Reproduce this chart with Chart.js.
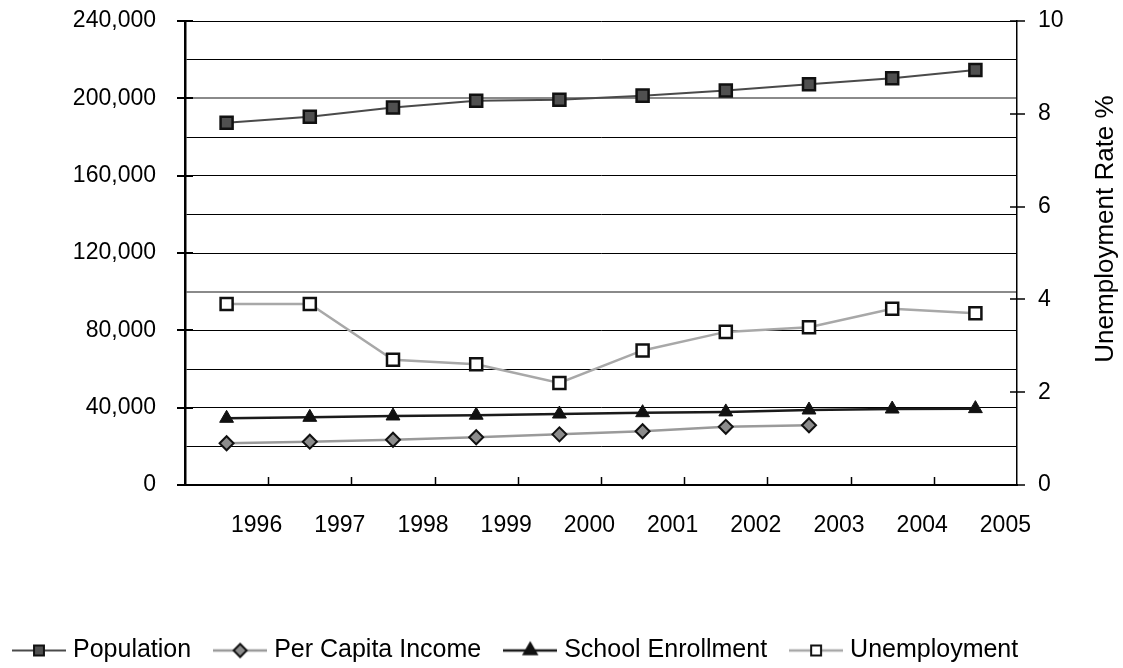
<!DOCTYPE html>
<html>
<head>
<meta charset="utf-8">
<script src="https://cdn.jsdelivr.net/npm/chart.js@4.4.1/dist/chart.umd.min.js"></script>
<style>
  html, body { margin: 0; padding: 0; background: #ffffff; }
  #wrap { width: 1123px; height: 668px; }
</style>
</head>
<body>
<div id="wrap"><canvas id="chart" width="1123" height="668"></canvas></div>
<script>
// Community indicators, 1996-2005
const years = ['1996', '1997', '1998', '1999', '2000', '2001', '2002', '2003', '2004', '2005'];
const population = [187400, 190500, 195200, 198800, 199300, 201400, 204000, 207300, 210400, 214700];
const perCapitaIncome = [21600, 22400, 23400, 24700, 26200, 27800, 30100, 30900, null, null];
const schoolEnrollment = [34500, 35000, 35700, 36100, 36700, 37400, 37800, 38800, 39300, 39500];
const unemploymentRate = [3.9, 3.9, 2.7, 2.6, 2.2, 2.9, 3.3, 3.4, 3.8, 3.7];

const leftMajorTicks = [0, 40000, 80000, 120000, 160000, 200000, 240000];
const rightTicks = [0, 2, 4, 6, 8, 10];
const rightTitle = 'Unemployment Rate %';

const FONT = '"Liberation Sans", Arial, sans-serif';

// Line segment plus marker, used as the legend symbol for each series
function legendSymbol(ds) {
  const w = 54, h = 24;
  const cv = document.createElement('canvas');
  cv.width = w; cv.height = h;
  const g = cv.getContext('2d');
  g.strokeStyle = ds.borderColor;
  g.lineWidth = ds.borderWidth;
  g.beginPath();
  g.moveTo(0, h / 2);
  g.lineTo(w, h / 2);
  g.stroke();
  g.fillStyle = ds.pointBackgroundColor;
  g.strokeStyle = ds.pointBorderColor;
  g.lineWidth = 2;
  Chart.helpers.drawPoint(g, {
    pointStyle: ds.pointStyle,
    radius: ds.legendRadius,
    rotation: 0,
    borderWidth: 2
  }, w / 2, h / 2);
  return cv;
}

// Moves the legend row so that its first symbol starts near the left edge
const legendPlacement = {
  id: 'legendPlacement',
  afterLayout(chart) {
    const lg = chart.legend;
    if (!lg) return;
    lg.left -= 10; lg.right -= 10;
    lg.top += 5; lg.bottom += 5;
  }
};

// Cross tick marks on the value axes, inner tick marks on the category axis,
// and the rotated title of the right-hand axis
const axisDecor = {
  id: 'axisDecor',
  afterDraw(chart) {
    const ctx = chart.ctx;
    const y = chart.scales.y, y1 = chart.scales.y1, x = chart.scales.x;
    const area = chart.chartArea;
    ctx.save();
    ctx.strokeStyle = '#000';

    ctx.lineWidth = 2;
    leftMajorTicks.forEach(v => {
      const py = Math.round(y.getPixelForValue(v));
      ctx.beginPath();
      ctx.moveTo(area.left - 8, py);
      ctx.lineTo(area.left + 8, py);
      ctx.stroke();
    });

    ctx.lineWidth = 1.5;
    rightTicks.forEach(v => {
      const py = Math.round(y1.getPixelForValue(v));
      ctx.beginPath();
      ctx.moveTo(area.right - 7, py);
      ctx.lineTo(area.right + 8, py);
      ctx.stroke();
    });

    const step = x.getPixelForValue(1) - x.getPixelForValue(0);
    for (let i = 1; i < years.length; i++) {
      const px = Math.round(x.getPixelForValue(i) - step / 2) + 0.5;
      ctx.beginPath();
      ctx.moveTo(px, area.bottom);
      ctx.lineTo(px, area.bottom - 8);
      ctx.stroke();
    }

    ctx.fillStyle = '#000';
    ctx.font = '26px ' + FONT;
    ctx.textAlign = 'center';
    ctx.textBaseline = 'middle';
    ctx.translate(1106, 229);
    ctx.rotate(-Math.PI / 2);
    ctx.fillText(rightTitle, 0, 0);
    ctx.restore();
  }
};

const datasets = [
  {
    label: 'Population',
    data: population,
    yAxisID: 'y',
    borderColor: '#4a4a4a',
    borderWidth: 2,
    pointStyle: 'rect',
    pointRadius: 8.5,
    legendRadius: 7,
    pointBackgroundColor: '#505050',
    pointBorderColor: '#111111',
    pointBorderWidth: 2.5
  },
  {
    label: 'Per Capita Income',
    data: perCapitaIncome,
    yAxisID: 'y',
    borderColor: '#9a9a9a',
    borderWidth: 2.5,
    pointStyle: 'rectRot',
    pointRadius: 7,
    legendRadius: 6.5,
    pointBackgroundColor: '#8c8c8c',
    pointBorderColor: '#111111',
    pointBorderWidth: 2
  },
  {
    label: 'School Enrollment',
    data: schoolEnrollment,
    yAxisID: 'y',
    borderColor: '#1a1a1a',
    borderWidth: 2.5,
    pointStyle: 'triangle',
    pointRadius: 8,
    legendRadius: 7.5,
    pointBackgroundColor: '#111111',
    pointBorderColor: '#111111',
    pointBorderWidth: 1
  },
  {
    label: 'Unemployment',
    data: unemploymentRate,
    yAxisID: 'y1',
    borderColor: '#a8a8a8',
    borderWidth: 2.5,
    pointStyle: 'rect',
    pointRadius: 8.5,
    legendRadius: 7,
    pointBackgroundColor: '#ffffff',
    pointBorderColor: '#111111',
    pointBorderWidth: 2.5
  }
];
datasets.forEach(d => { d.tension = 0; d.spanGaps = false; d.pointHoverRadius = d.pointRadius; });

// Value axes keep their label padding out of the plot-area inset
function trimVerticalPadding(scale) {
  scale.paddingTop = 0;
  scale.paddingBottom = 0;
}

// Gridline styling: the 100,000 and 200,000 lines are softer and wider
const softGridValues = [100000, 200000];
function gridColor(ctx) {
  if (!ctx.tick) return '#000';
  if (ctx.tick.value === 0) return 'rgba(0,0,0,0)';
  return softGridValues.includes(ctx.tick.value) ? '#8a8a8a' : '#000';
}
function gridWidth(ctx) {
  return ctx.tick && softGridValues.includes(ctx.tick.value) ? 2 : 1;
}

new Chart(document.getElementById('chart'), {
  type: 'line',
  data: { labels: years, datasets },
  options: {
    responsive: false,
    animation: false,
    devicePixelRatio: 1,
    layout: { padding: { top: 21, bottom: 0, left: 0, right: 0 } },
    plugins: {
      tooltip: { enabled: false },
      legend: {
        position: 'bottom',
        align: 'start',
        labels: {
          usePointStyle: true,
          pointStyleWidth: 43,
          padding: 27.5,
          color: '#000',
          font: { family: FONT, size: 25 },
          generateLabels(chart) {
            return chart.data.datasets.map((ds, i) => ({
              text: ds.label,
              pointStyle: legendSymbol(ds),
              fillStyle: ds.pointBackgroundColor,
              strokeStyle: ds.pointBorderColor,
              lineWidth: 0,
              hidden: false,
              datasetIndex: i
            }));
          }
        }
      }
    },
    scales: {
      x: {
        type: 'category',
        offset: true,
        grid: { display: false, drawTicks: false, offset: true },
        border: { display: true, color: '#000', width: 2 },
        ticks: {
          color: '#000',
          font: { family: FONT, size: 23 },
          padding: 27,
          labelOffset: 30,
          maxRotation: 0,
          autoSkip: false
        },
        afterFit(scale) { scale.height = 120.5; }
      },
      y: {
        type: 'linear',
        position: 'left',
        min: 0,
        max: 240000,
        grid: {
          drawTicks: false,
          color: gridColor,
          lineWidth: gridWidth
        },
        border: { display: true, color: '#000', width: 2.5 },
        ticks: {
          stepSize: 20000,
          padding: 29,
          color: '#000',
          font: { family: FONT, size: 23 },
          callback: v => (v % 40000 === 0) ? v.toLocaleString('en-US') : ''
        },
        afterFit(scale) { scale.width = 185; trimVerticalPadding(scale); }
      },
      y1: {
        type: 'linear',
        position: 'right',
        min: 0,
        max: 10,
        grid: { display: false, drawTicks: false },
        border: { display: true, color: '#000', width: 1.5 },
        ticks: {
          stepSize: 2,
          padding: 21,
          color: '#000',
          font: { family: FONT, size: 23 }
        },
        afterFit(scale) { scale.width = 106; trimVerticalPadding(scale); }
      }
    }
  },
  plugins: [legendPlacement, axisDecor]
});
</script>
</body>
</html>
